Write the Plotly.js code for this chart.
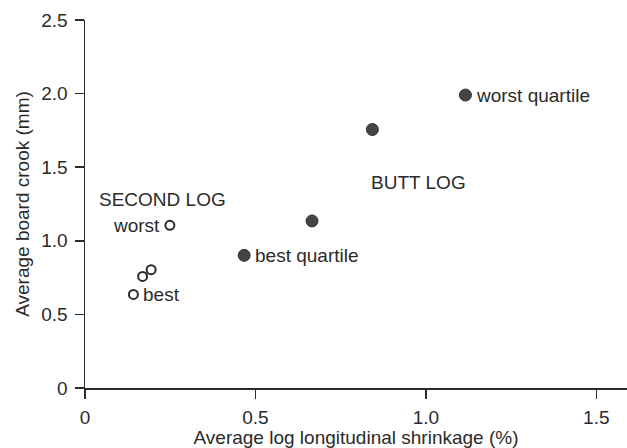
<!DOCTYPE html>
<html>
<head>
<meta charset="utf-8">
<script src="https://cdn.plot.ly/plotly-3.0.1.min.js"></script>
<style>
  html, body { margin: 0; padding: 0; background: #fff; }
  #chart { width: 627px; height: 448px; }
</style>
</head>
<body>
<div id="chart"></div>
<script>
// second log (open circles)
const secondShrink = [0.249, 0.169, 0.194, 0.142];
const secondCrook = [1.105, 0.758, 0.804, 0.636];
const secondLabels = ["worst", "", "", "best"];

// butt log (filled circles)
const buttShrink = [0.467, 0.666, 0.843, 1.116];
const buttCrook = [0.901, 1.135, 1.756, 1.99];
const buttLabels = ["best quartile", "", "", "worst quartile"];

const xTicks = [0, 0.5, 1.0, 1.5];
const xTickText = ["0", "0.5", "1.0", "1.5"];
const yTicks = [0, 0.5, 1.0, 1.5, 2.0, 2.5];
const yTickText = ["0", "0.5", "1.0", "1.5", "2.0", "2.5"];

const ink = "#2b2b2b";
const font = { family: "Liberation Sans, Arial, sans-serif", size: 19, color: ink };

const traces = [
  {
    x: secondShrink, y: secondCrook, type: "scatter", mode: "markers",
    marker: { size: 9, color: "#fff", line: { color: ink, width: 2 } },
    name: "Second log", cliponaxis: false
  },
  {
    x: buttShrink, y: buttCrook, type: "scatter", mode: "markers",
    marker: { size: 12, color: "#444", line: { color: "#333", width: 1 } },
    name: "Butt log", cliponaxis: false
  }
];

// point labels, placed beside their points
const annotations = [];
secondLabels.forEach((t, i) => {
  if (!t) return;
  const left = t === "worst";
  annotations.push({
    x: secondShrink[i], y: secondCrook[i], text: t, showarrow: false,
    xanchor: left ? "right" : "left", xshift: left ? -8 : 8, font: font
  });
});
buttLabels.forEach((t, i) => {
  if (!t) return;
  annotations.push({
    x: buttShrink[i], y: buttCrook[i], text: t, showarrow: false,
    xanchor: "left", xshift: 9, font: font
  });
});
annotations.push(
  { x: 0.034, y: 1.282, text: "SECOND LOG", showarrow: false, xanchor: "left", font: font },
  { x: 0.832, y: 1.393, text: "BUTT LOG", showarrow: false, xanchor: "left", font: font }
);

const axisBase = {
  showline: true, linecolor: ink, linewidth: 1.5,
  ticks: "outside", ticklen: 9, tickwidth: 1.5, tickcolor: ink,
  showgrid: false, zeroline: false, tickfont: font
};

const layout = {
  width: 627, height: 448,
  margin: { l: 85, r: 0, t: 20, b: 60 },
  paper_bgcolor: "#fff", plot_bgcolor: "#fff",
  showlegend: false,
  font: font,
  xaxis: Object.assign({}, axisBase, {
    range: [0, 1.59], tickvals: xTicks, ticktext: xTickText,
    ticklabelstandoff: 3,
    title: { text: "Average log longitudinal shrinkage (%)", font: font, standoff: 2 }
  }),
  yaxis: Object.assign({}, axisBase, {
    range: [0, 2.5], tickvals: yTicks, ticktext: yTickText,
    ticklabelstandoff: 3,
    title: { text: "Average board crook (mm)", font: font, standoff: 6 }
  }),
  annotations: annotations
};

Plotly.newPlot("chart", traces, layout, { displayModeBar: false, staticPlot: true });
</script>
</body>
</html>
